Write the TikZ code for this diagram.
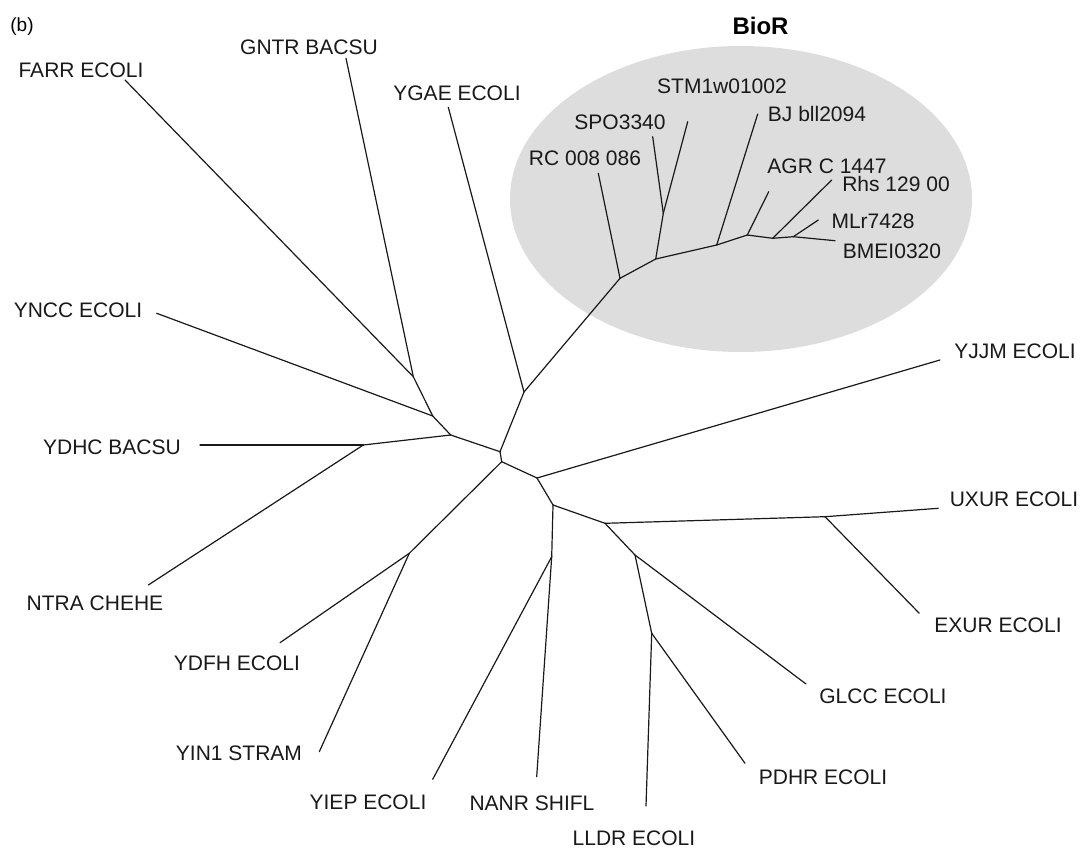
\documentclass[tikz,border=0pt]{standalone}
\usepackage{fontspec}
\setmainfont{Liberation Sans}
\usetikzlibrary{shapes.geometric}
\definecolor{biorgray}{RGB}{221,221,221}
\definecolor{branchcol}{RGB}{25,25,25}
\tikzset{
  leaf/.style={inner sep=0pt, text height=15pt, text depth=0pt, font=\fontsize{21}{24}\selectfont, text=branchcol},
  branch/.style={draw=branchcol, line width=1.2pt, line cap=round, line join=round},
}
\begin{document}
\begin{tikzpicture}[x=1pt,y=-1pt]
\useasboundingbox[fill=white] (0,0) rectangle (1081,848);
% BioR group background
\node[ellipse, fill=biorgray, inner sep=0pt, minimum width=462pt, minimum height=306pt] (bior) at (741,199) {};
\node[inner sep=0pt, font=\fontsize{24}{28}\selectfont\bfseries] (biorlab) at (760.5,26) {BioR};
\node[inner sep=0pt, font=\fontsize{19}{22}\selectfont] (panel) at (22,27) {(b)};

% junctions
\coordinate (j0) at (501.7,461.7);
\coordinate (j1) at (500,451.7);
\coordinate (jydhc) at (450.7,435);
\coordinate (jyncc) at (432.7,416);
\coordinate (jfarr) at (413.3,376.7);
\coordinate (jntra) at (363.3,445);
\coordinate (jygae) at (524,392);
\coordinate (jrc) at (620,278.3);
\coordinate (js) at (655.7,259);
\coordinate (jss) at (663.3,213.3);
\coordinate (jbj) at (716.7,245);
\coordinate (ja) at (747.3,235);
\coordinate (jr) at (772.7,238.3);
\coordinate (jm) at (793.3,236.7);
\coordinate (jdf) at (409.3,553.3);
\coordinate (jy) at (537,478);
\coordinate (jn) at (553,505);
\coordinate (jny) at (551.7,556.7);
\coordinate (jg) at (605,523.3);
\coordinate (jex) at (825,516.7);
\coordinate (jl) at (635,555);
\coordinate (jp) at (651.7,633.3);

% leaf ends
\coordinate (farr) at (125,80);
\coordinate (gntr) at (346,58.3);
\coordinate (ygae) at (448.3,107.3);
\coordinate (yncc) at (156.7,313.3);
\coordinate (ydhc) at (200,445);
\coordinate (ntra) at (148.3,585);
\coordinate (ydfh) at (280,642.7);
\coordinate (yin1) at (319.3,751.7);
\coordinate (yiep) at (432.7,779.3);
\coordinate (nanr) at (536.7,776.7);
\coordinate (lldr) at (646,806);
\coordinate (pdhr) at (745,763.3);
\coordinate (glcc) at (806,684);
\coordinate (exur) at (919.3,613.3);
\coordinate (uxur) at (938.3,508.3);
\coordinate (yjjm) at (940,360);
\coordinate (rc) at (598.3,173.3);
\coordinate (spo) at (652.7,136.7);
\coordinate (stm) at (687.7,121.7);
\coordinate (bj) at (757.7,114);
\coordinate (agr) at (768.7,191.7);
\coordinate (rhs) at (831.7,180);
\coordinate (mlr) at (818.3,220);
\coordinate (bme) at (835,240.7);

% labels
\node[leaf] (lfarr) at (81,70) {FARR ECOLI};
\node[leaf] (lgntr) at (309,47) {GNTR BACSU};
\node[leaf] (lygae) at (457,93) {YGAE ECOLI};
\node[leaf] (lyncc) at (78,310) {YNCC ECOLI};
\node[leaf] (lydhc) at (112,447) {YDHC BACSU};
\node[leaf] (lntra) at (95,603) {NTRA CHEHE};
\node[leaf] (lydfh) at (237,663) {YDFH ECOLI};
\node[leaf] (lyin1) at (239,753) {YIN1 STRAM};
\node[leaf] (lyiep) at (368,802) {YIEP ECOLI};
\node[leaf] (lnanr) at (532,803) {NANR SHIFL};
\node[leaf] (llldr) at (634,838) {LLDR ECOLI};
\node[leaf] (lpdhr) at (823,777) {PDHR ECOLI};
\node[leaf] (lglcc) at (883,696) {GLCC ECOLI};
\node[leaf] (lexur) at (998,625) {EXUR ECOLI};
\node[leaf] (luxur) at (1014,499) {UXUR ECOLI};
\node[leaf] (lyjjm) at (1015,351) {YJJM ECOLI};
\node[leaf] (lrc) at (585,158) {RC 008 086};
\node[leaf] (lspo) at (620,122) {SPO3340};
\node[leaf] (lstm) at (722,86) {STM1w01002};
\node[leaf] (lbj) at (817,114) {BJ bll2094};
\node[leaf] (lagr) at (827,166) {AGR C 1447};
\node[leaf] (lrhs) at (896,184) {Rhs 129 00};
\node[leaf] (lmlr) at (873,221) {MLr7428};
\node[leaf] (lbme) at (892,251) {BMEI0320};

% branches
\draw[branch] (j0) -- (j1);
\draw[branch] (j1) -- (jydhc);
\draw[branch] (jydhc) -- (jyncc);
\draw[branch] (jyncc) -- (jfarr);
\draw[branch] (jfarr) -- (farr);
\draw[branch] (jfarr) -- (gntr);
\draw[branch] (jyncc) -- (yncc);
\draw[branch] (jydhc) -- (jntra);
\draw[branch] (jntra) -- (ydhc);
\draw[branch] (jntra) -- (ntra);
\draw[branch] (j1) -- (jygae);
\draw[branch] (jygae) -- (ygae);
\draw[branch] (jygae) -- (jrc);
\draw[branch] (jrc) -- (rc);
\draw[branch] (jrc) -- (js);
\draw[branch] (js) -- (jss);
\draw[branch] (jss) -- (spo);
\draw[branch] (jss) -- (stm);
\draw[branch] (js) -- (jbj);
\draw[branch] (jbj) -- (bj);
\draw[branch] (jbj) -- (ja);
\draw[branch] (ja) -- (agr);
\draw[branch] (ja) -- (jr);
\draw[branch] (jr) -- (rhs);
\draw[branch] (jr) -- (jm);
\draw[branch] (jm) -- (mlr);
\draw[branch] (jm) -- (bme);
\draw[branch] (j0) -- (jdf);
\draw[branch] (jdf) -- (ydfh);
\draw[branch] (jdf) -- (yin1);
\draw[branch] (j0) -- (jy);
\draw[branch] (jy) -- (yjjm);
\draw[branch] (jy) -- (jn);
\draw[branch] (jn) -- (jny);
\draw[branch] (jny) -- (yiep);
\draw[branch] (jny) -- (nanr);
\draw[branch] (jn) -- (jg);
\draw[branch] (jg) -- (jex);
\draw[branch] (jex) -- (uxur);
\draw[branch] (jex) -- (exur);
\draw[branch] (jg) -- (jl);
\draw[branch] (jl) -- (glcc);
\draw[branch] (jl) -- (jp);
\draw[branch] (jp) -- (pdhr);
\draw[branch] (jp) -- (lldr);
\end{tikzpicture}
\end{document}
